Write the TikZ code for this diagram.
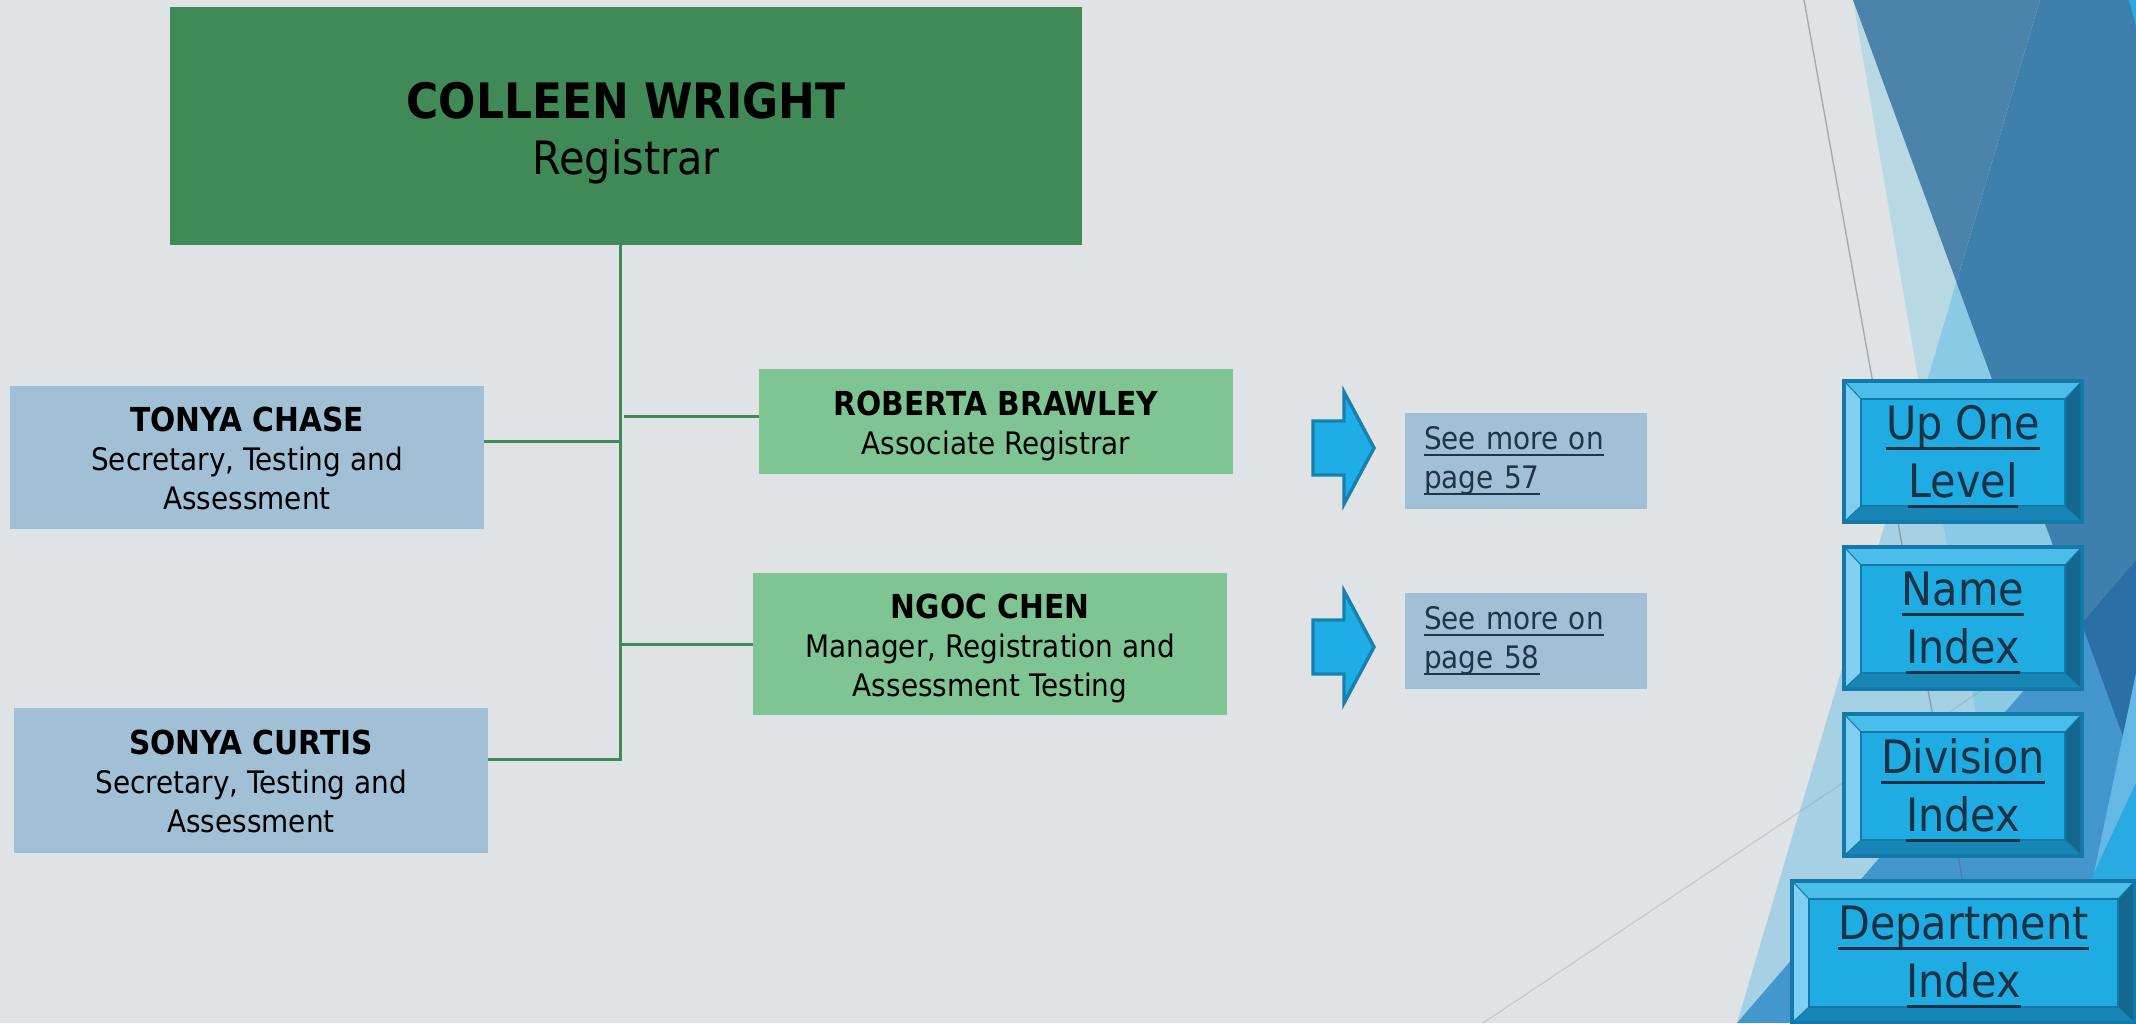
\documentclass[tikz,border=0pt]{standalone}
\usepackage{fontspec}
\setmainfont{DejaVu Sans}[FakeStretch=0.9]
\definecolor{bgc}{HTML}{DFE3E6}
\definecolor{cwgreen}{HTML}{3F8A56}
\definecolor{ltgreen}{HTML}{7EC593}
\definecolor{bluegrey}{HTML}{A1C0D6}
\definecolor{connc}{HTML}{3F8A56}
\definecolor{arrfill}{HTML}{1EADE4}
\definecolor{arrdraw}{HTML}{1681AE}
\definecolor{seetext}{HTML}{1F3548}
\definecolor{btnface}{HTML}{1EACE3}
\definecolor{btntop}{HTML}{4ABDEB}
\definecolor{btnleft}{HTML}{7ECFF2}
\definecolor{btnright}{HTML}{12688F}
\definecolor{btnbot}{HTML}{1786B6}
\definecolor{btnborder}{HTML}{1479A8}
\definecolor{btntxt}{HTML}{1B3144}
\definecolor{paleC}{HTML}{B8D8E4}
\definecolor{steelA}{HTML}{4C83AA}
\definecolor{lightT}{HTML}{A6D1E4}
\definecolor{skyT}{HTML}{8BCAE4}
\definecolor{steelB}{HTML}{3E80AD}
\definecolor{medC}{HTML}{4396CE}
\definecolor{navyC}{HTML}{2A6FA6}
\definecolor{skyR}{HTML}{66B8E4}
\definecolor{brightC}{HTML}{29ABE2}
\newcommand\ulin[1]{\leavevmode\setbox0=\hbox{#1}\rlap{\rule[-0.22em]{\wd0}{0.065em}}\box0}
\newcommand\topstrut[1]{\rule{0pt}{#1}}
\newcommand\bevbtn[6]{%
  \pgfmathsetmacro\bbax{#2+4}\pgfmathsetmacro\bbay{#3+4}%
  \pgfmathsetmacro\bbbx{#4-4}\pgfmathsetmacro\bbby{#5-4}%
  \pgfmathsetmacro\bbcx{#2+19}\pgfmathsetmacro\bbcy{#3+20}%
  \pgfmathsetmacro\bbdx{#4-19}\pgfmathsetmacro\bbdy{#5-18}%
  \fill[btnborder] (#2,#3) rectangle (#4,#5);
  \fill[btntop] (\bbax,\bbay) -- (\bbbx,\bbay) -- (\bbdx,\bbcy) -- (\bbcx,\bbcy) -- cycle;
  \fill[btnleft] (\bbax,\bbay) -- (\bbcx,\bbcy) -- (\bbcx,\bbdy) -- (\bbax,\bbby) -- cycle;
  \fill[btnright] (\bbbx,\bbay) -- (\bbbx,\bbby) -- (\bbdx,\bbdy) -- (\bbdx,\bbcy) -- cycle;
  \fill[btnbot] (\bbax,\bbby) -- (\bbcx,\bbdy) -- (\bbdx,\bbdy) -- (\bbbx,\bbby) -- cycle;
  \draw[btnborder, line width=0.5pt] (\bbax,\bbay) -- (\bbcx,\bbcy) (\bbbx,\bbay) -- (\bbdx,\bbcy)
     (\bbax,\bbby) -- (\bbcx,\bbdy) (\bbbx,\bbby) -- (\bbdx,\bbdy);
  \draw[btnborder, line width=1.2pt, fill=btnface] (\bbcx,\bbcy) rectangle (\bbdx,\bbdy);
  \node[btntext] (#1) at ({(#2+#4)/2},{(#3+#5)/2}) {#6};
}
\begin{document}
\begin{tikzpicture}[x=0.5pt,y=-0.5pt,
  orgbox/.style={rectangle, inner sep=0pt, align=center, text=black,
     font=\fontsize{15.5}{19.5}\selectfont},
  conn/.style={draw=connc, line width=1.5pt},
  blockarrow/.style={fill=arrfill, draw=arrdraw, line width=1.7pt, line join=miter},
  seebox/.style={rectangle, fill=bluegrey, minimum width=121pt, minimum height=48pt,
     text width=102pt, inner xsep=9.5pt, inner ysep=0pt, align=left, text=seetext,
     font=\fontsize{15.5}{19.5}\selectfont},
  btntext/.style={align=center, text=btntxt, inner sep=0pt, yshift=-2.5pt,
     font=\fontsize{23}{29}\selectfont}]
\useasboundingbox (0,0) rectangle (2136,1023);
\fill[bgc] (0,0) rectangle (2136,1023);
% decorative background
\begin{scope}
  \clip (0,0) rectangle (2136,1023);
  \fill[paleC] (1853,0) -- (2029,1023) -- (2228,1023) -- cycle;
  \fill[steelA] (1853,0) -- (2300,0) -- (2300,1023) -- (2228,1023) -- cycle;
  \begin{scope}
    \clip (2040,0) -- (2300,0) -- (2300,1023) -- (1737,1023) -- cycle;
    \fill[lightT] (1700,0) rectangle (2300,1023);
    \fill[skyT] (1853,0) -- (2029,1023) -- (2228,1023) -- cycle;
    \fill[steelB] (1853,0) -- (2300,0) -- (2300,1023) -- (2228,1023) -- cycle;
  \end{scope}
  \begin{scope}
    \clip (1737,1023) -- (2300,370) -- (2300,1023) -- cycle;
    \fill[medC] (1700,0) rectangle (2300,1023);
    \fill[navyC] (1853,0) -- (2300,0) -- (2300,1023) -- (2228,1023) -- cycle;
  \end{scope}
  \fill[skyR] (2136,673) -- (2094,873) -- (2136,783) -- cycle;
  \fill[brightC] (2136,783) -- (2094,873) -- (2026,1023) -- (2136,1023) -- cycle;
  \fill[brightC] (2129,0) -- (2137,0) -- (2137,30) -- cycle;
  \draw[gray!80!black, opacity=0.45, line width=0.7pt] (1804,0) -- (1988,1023);
  \draw[gray, opacity=0.25, line width=0.6pt] (1483,1023) -- (2000,678);
\end{scope}
% org chart
\node[orgbox, fill=cwgreen, minimum width=456pt, minimum height=119pt,
  font=\fontsize{23}{28}\selectfont] (colleen) at (626,126)
  {\topstrut{25pt}{\fontsize{24.4}{28}\selectfont\bfseries COLLEEN WRIGHT}\\Registrar};
\node[orgbox, fill=bluegrey, minimum width=237pt, minimum height=71.5pt] (tonya) at (247,457.5)
  {\topstrut{13.5pt}{\fontsize{16.5}{19.5}\selectfont\bfseries TONYA CHASE}\\Secretary, Testing and\\Assessment};
\node[orgbox, fill=bluegrey, minimum width=237pt, minimum height=72.5pt] (sonya) at (251,780.5)
  {\topstrut{13.5pt}{\fontsize{16.5}{19.5}\selectfont\bfseries SONYA CURTIS}\\Secretary, Testing and\\Assessment};
\node[orgbox, fill=ltgreen, minimum width=237pt, minimum height=52.5pt] (roberta) at (996,421.5)
  {\topstrut{16.5pt}{\fontsize{16.5}{19.5}\selectfont\bfseries ROBERTA BRAWLEY}\\Associate Registrar};
\node[orgbox, fill=ltgreen, minimum width=237pt, minimum height=71pt] (ngoc) at (990,644)
  {\topstrut{16.5pt}{\fontsize{16.5}{19.5}\selectfont\bfseries NGOC CHEN}\\Manager, Registration and\\Assessment Testing};
\coordinate (trunkbot) at (620,759);
\coordinate (jt) at (620,441);
\coordinate (jr) at (624,416);
\coordinate (jn) at (620,644);
\draw[conn] (colleen.south -| trunkbot) -- (trunkbot) -- (sonya.east |- trunkbot);
\draw[conn] (tonya.east |- jt) -- (jt);
\draw[conn] (jr) -- (roberta.west |- jr);
\draw[conn] (jn) -- (ngoc.west |- jn);
% block arrows
\draw[blockarrow] (1313,421) -- (1344,421) -- (1344,392) -- (1374,448) -- (1344,504) -- (1344,475) -- (1313,475) -- cycle;
\draw[blockarrow] (1313,620) -- (1344,620) -- (1344,591) -- (1374,647) -- (1344,703) -- (1344,674) -- (1313,674) -- cycle;
% see more
\node[seebox] (see1) at (1526,461) {\ulin{See more on}\\\ulin{page 57}};
\node[seebox] (see2) at (1526,641) {\ulin{See more on}\\\ulin{page 58}};
% buttons
\bevbtn{btnup}{1842}{379}{2084}{524}{\ulin{Up One}\\\ulin{Level}}
\bevbtn{btnname}{1842}{545}{2084}{691}{\ulin{Name}\\\ulin{Index}}
\bevbtn{btndiv}{1842}{712}{2084}{858}{\ulin{Division}\\\ulin{Index}}
\bevbtn{btndept}{1790}{879}{2137}{1025}{\ulin{Department}\\\ulin{Index}}
\end{tikzpicture}
\end{document}
